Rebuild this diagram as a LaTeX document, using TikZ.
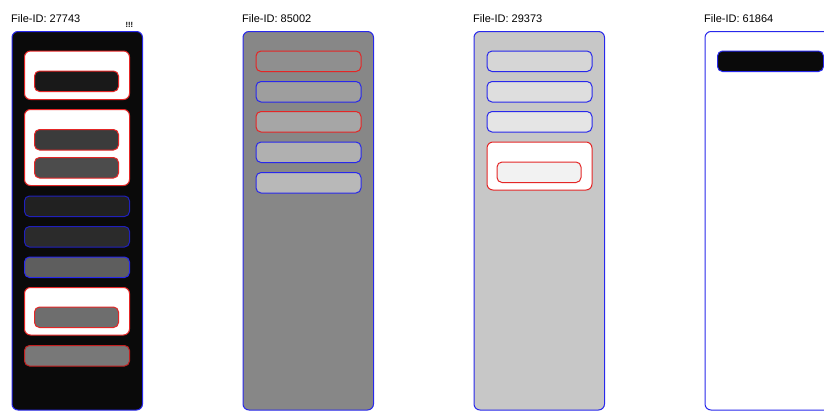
\documentclass[tikz,border=0pt]{standalone}
\usepackage{fontspec}
\setmainfont{Liberation Sans}
\usetikzlibrary{positioning}
\definecolor{frameblue}{RGB}{40,40,235}
\definecolor{markred}{RGB}{228,38,38}

\begin{document}
\begin{tikzpicture}[x=1pt, y=-1pt,
    panel/.style={rectangle, draw=frameblue, rounded corners=6pt, line width=1pt,
                  anchor=north west, inner sep=0pt, minimum width=130.5pt, minimum height=378.5pt},
    grp/.style={rectangle, draw=markred, fill=white, rounded corners=6pt, line width=1pt,
                anchor=north west, inner sep=0pt, minimum width=105pt},
    slot/.style={rectangle, rounded corners=5pt, line width=1pt, anchor=north west,
                 inner sep=0pt, minimum width=105pt, minimum height=20.5pt},
    inslot/.style={slot, draw=markred, minimum width=84pt},
    title/.style={anchor=base west, inner sep=0pt, font=\fontsize{11}{13}\selectfont}
]
    \clip (0,0) rectangle (824,410);
    % file 27743
    \node[title] (t1) at (11,22) {File-ID: 27743};
    \node[anchor=base west, inner sep=0pt, font=\fontsize{7.5}{8}\selectfont\bfseries] (warn) at (125.5,27) {!!!};
    \node[panel, fill=black!96] (p1) at (11.5,31) {};
    \node[grp, minimum height=48.5pt] (g1a) at (24,50.5) {};
    \node[inslot, fill=black!90] (s1a) at (34,70.5) {};
    \node[grp, minimum height=76pt] (g1b) at (24,109) {};
    \node[inslot, fill=black!77] (s1b) at (34,129) {};
    \node[inslot, fill=black!70] (s1c) at (34,157) {};
    \node[slot, draw=frameblue!80!black, fill=black!87] (s1d) at (24,195.5) {};
    \node[slot, draw=frameblue!80!black, fill=black!83] (s1e) at (24,226) {};
    \node[slot, draw=frameblue, fill=black!63] (s1f) at (24,256.5) {};
    \node[grp, minimum height=47.5pt] (g1c) at (24,287) {};
    \node[inslot, fill=black!57] (s1g) at (34,306.5) {};
    \node[slot, draw=markred!85!black, fill=black!53] (s1h) at (24,345) {};

    % file 85002
    \node[title] (t2) at (242,22) {File-ID: 85002};
    \node[panel, fill=black!47] (p2) at (242.5,31) {};
    \node[slot, draw=markred, fill=black!44] (s2a) at (255.5,50.5) {};
    \node[slot, draw=frameblue, fill=black!38] (s2b) at (255.5,81) {};
    \node[slot, draw=markred, fill=black!35] (s2c) at (255.5,111) {};
    \node[slot, draw=frameblue, fill=black!31] (s2d) at (255.5,141.5) {};
    \node[slot, draw=frameblue, fill=black!28] (s2e) at (255.5,172) {};

    % file 29373
    \node[title] (t3) at (473,22) {File-ID: 29373};
    \node[panel, fill=black!22] (p3) at (473.5,31) {};
    \node[slot, draw=frameblue, fill=black!16] (s3a) at (486.5,50.5) {};
    \node[slot, draw=frameblue, fill=black!13] (s3b) at (486.5,81) {};
    \node[slot, draw=frameblue, fill=black!10] (s3c) at (486.5,111) {};
    \node[grp, minimum height=48pt] (g3a) at (486.5,141.5) {};
    \node[inslot, fill=black!5] (s3d) at (496.5,161.5) {};

    % file 61864
    \node[title] (t4) at (704,22) {File-ID: 61864};
    \node[panel, fill=white] (p4) at (704.5,31) {};
    \node[slot, draw=frameblue, fill=black!96, minimum width=106pt] (s4a) at (717,50.5) {};
\end{tikzpicture}
\end{document}
